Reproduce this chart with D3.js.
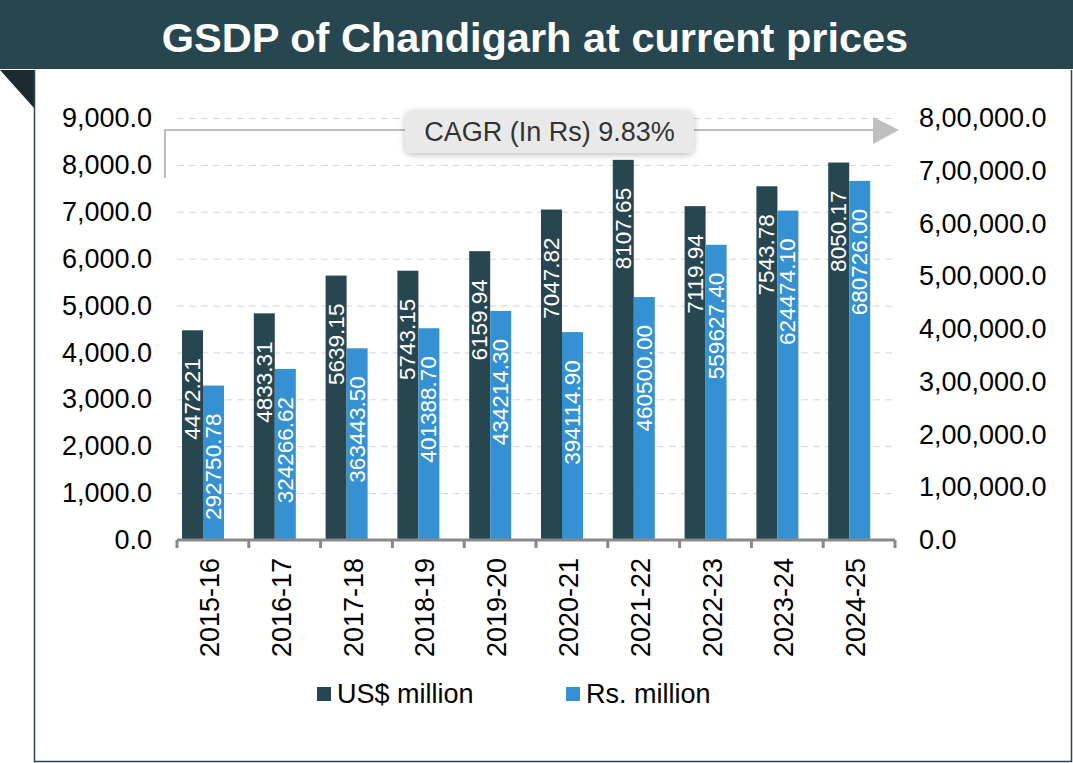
<html>
<head>
<script src="https://d3js.org/d3.v7.min.js"></script>
<style>
body { margin: 0; background: #fff; }
svg { font-family: Arial, "Liberation Sans", sans-serif; }
.gridlines line { stroke: #d6d6d6; stroke-dasharray: 7, 5; }
.gridlines .domain { stroke: none; }
.axis .domain { stroke: none; }
.axis text { fill: #000; font-size: 27px; }
</style>
</head>
<body>
<svg id="chart" width="1073" height="763"></svg>
<script>
const years = ['2015-16','2016-17','2017-18','2018-19','2019-20','2020-21','2021-22','2022-23','2023-24','2024-25'];
const usdMillion = [4472.21, 4833.31, 5639.15, 5743.15, 6159.94, 7047.82, 8107.65, 7119.94, 7543.78, 8050.17];
const rsMillion = [292750.78, 324266.62, 363443.50, 401388.70, 434214.30, 394114.90, 460500.00, 559627.40, 624474.10, 680726.00];
const leftTicks = [0, 1000, 2000, 3000, 4000, 5000, 6000, 7000, 8000, 9000];
const rightTicks = [0, 100000, 200000, 300000, 400000, 500000, 600000, 700000, 800000];
const seriesNames = ['US$ million', 'Rs. million'];
const cagrText = 'CAGR (In Rs) 9.83%';
const titleText = 'GSDP of Chandigarh at current prices';

const dark = '#284650';
const blue = '#3591d1';

const svg = d3.select('svg#chart');
const W = 1073, H = 763;

// indian style grouping: 8,00,000.0
function fmtIN(v) {
    let s = Math.round(v).toString();
    let last3 = s.slice(-3);
    let rest = s.slice(0, -3);
    if (rest.length) {
        rest = rest.replace(/\B(?=(\d{2})+(?!\d))/g, ',');
        s = rest + ',' + last3;
    } else s = last3;
    return s + '.0';
}

// header + frame
svg.append('rect').attr('x', 0).attr('y', 0).attr('width', W).attr('height', 69).attr('fill', dark);
svg.append('text')
    .attr('x', 535).attr('y', 37)
    .attr('text-anchor', 'middle').attr('dominant-baseline', 'central')
    .attr('fill', '#fff').attr('font-weight', 'bold').attr('font-size', 41.5)
    .text(titleText);
svg.append('path').attr('d', 'M0,70 L34,70 L34,108 Z').attr('fill', '#1b2b31');
svg.append('path').attr('d', `M34.5,70 L34.5,${H-1.5} L${W-1.5},${H-1.5} L${W-1.5},70`)
    .attr('fill', 'none').attr('stroke', dark).attr('stroke-width', 1.5);

const plot = {left: 177, right: 895, top: 118, bottom: 540};
const x = d3.scaleBand().domain(years).range([plot.left, plot.right]);
const sub = d3.scaleBand().domain([0, 1]).range([5, 47]);
const yL = d3.scaleLinear().domain([0, 9000]).range([plot.bottom, plot.top]);
const yR = d3.scaleLinear().domain([0, 800000]).range([plot.bottom, plot.top]);

svg.append('g').attr('class', 'gridlines')
    .attr('transform', `translate(${plot.left},0)`)
    .call(d3.axisLeft(yL).tickValues(leftTicks.slice(1)).tickSize(-(plot.right - plot.left)).tickFormat(''));

// CAGR arrow
svg.append('path').attr('d', `M165,178 L165,130 L876,130`).attr('fill', 'none').attr('stroke', '#bdbdbd').attr('stroke-width', 2);
svg.append('path').attr('d', 'M873,117 L899,130 L873,144 Z').attr('fill', '#bfbfbf');

const defs = svg.append('defs');
const f = defs.append('filter').attr('id', 'shadow').attr('x', '-10%').attr('y', '-30%').attr('width', '120%').attr('height', '170%');
f.append('feDropShadow').attr('dx', 0).attr('dy', 2).attr('stdDeviation', 3).attr('flood-color', '#000').attr('flood-opacity', 0.25);
svg.append('rect').attr('x', 405).attr('y', 110).attr('width', 289).attr('height', 43).attr('rx', 7)
    .attr('fill', '#e9e9e9').attr('filter', 'url(#shadow)');
svg.append('text').attr('x', 549.5).attr('y', 132).attr('text-anchor', 'middle').attr('dominant-baseline', 'central')
    .attr('font-size', 27).attr('fill', '#333').text(cagrText);

// bars
const rows = years.map((y, i) => ({year: y, vals: [usdMillion[i], rsMillion[i]]}));
const scales = [yL, yR];
const colors = [dark, blue];
const labelFmt = d3.format('.2f');

rows.forEach(r => {
    r.vals.forEach((v, k) => {
        const bx = x(r.year) + sub(k);
        const top = scales[k](v);
        svg.append('rect')
            .attr('x', bx).attr('y', top)
            .attr('width', sub.bandwidth()).attr('height', plot.bottom - top)
            .attr('fill', colors[k]);
        const cx = bx + sub.bandwidth() / 2;
        svg.append('text')
            .attr('transform', `translate(${cx},${top + 28}) rotate(-90)`)
            .attr('text-anchor', 'end').attr('dominant-baseline', 'central')
            .attr('fill', '#fff').attr('font-size', 22.5)
            .text(labelFmt(v));
    });
});

// axes
svg.append('g').attr('class', 'axis')
    .attr('transform', `translate(${plot.left},0)`)
    .call(d3.axisLeft(yL).tickValues(leftTicks).tickSize(0).tickPadding(25).tickFormat(d3.format(',.1f')));
svg.append('g').attr('class', 'axis')
    .attr('transform', `translate(${plot.right},0)`)
    .call(d3.axisRight(yR).tickValues(rightTicks).tickSize(0).tickPadding(24).tickFormat(fmtIN));

const xAxis = svg.append('g').attr('class', 'axis')
    .attr('transform', `translate(0,${plot.bottom})`)
    .call(d3.axisBottom(x).tickSize(0).tickPadding(0));
xAxis.selectAll('text')
    .attr('font-size', 23)
    .attr('text-anchor', 'end').attr('dominant-baseline', 'central')
    .attr('dy', null)
    .attr('transform', 'translate(-3,18) rotate(-90)');

const bounds = years.map(d => x(d)).concat([plot.right]);
svg.append('line').attr('x1', plot.left).attr('x2', plot.right).attr('y1', plot.bottom).attr('y2', plot.bottom)
    .attr('stroke', '#898989').attr('stroke-width', 3);
svg.selectAll('.xtick').data(bounds).join('line').attr('class', 'xtick')
    .attr('x1', d => d).attr('x2', d => d).attr('y1', plot.bottom).attr('y2', plot.bottom + 8)
    .attr('stroke', '#898989').attr('stroke-width', 3);

// legend
const legX = [317, 566];
seriesNames.forEach((n, k) => {
    svg.append('rect').attr('x', legX[k]).attr('y', 687).attr('width', 14).attr('height', 14).attr('fill', colors[k]);
    svg.append('text').attr('x', legX[k] + 20).attr('y', 694).attr('dominant-baseline', 'central')
        .attr('font-size', 27).attr('fill', '#000').text(n);
});
</script>
</body>
</html>
